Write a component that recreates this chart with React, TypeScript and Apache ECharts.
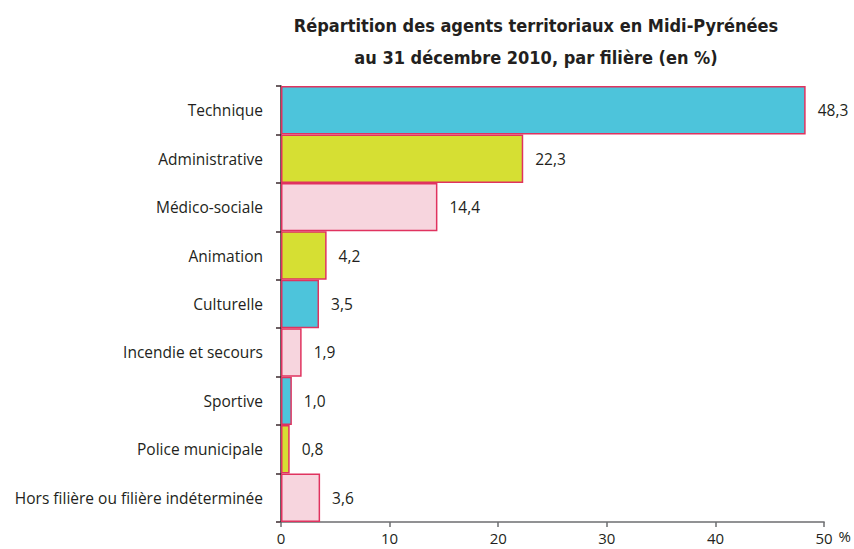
import React, { useEffect, useRef } from "react";
import * as echarts from "echarts";

const categories = [
  "Technique",
  "Administrative",
  "Médico-sociale",
  "Animation",
  "Culturelle",
  "Incendie et secours",
  "Sportive",
  "Police municipale",
  "Hors filière ou filière indéterminée",
];
const values = [48.3, 22.3, 14.4, 4.2, 3.5, 1.9, 1.0, 0.8, 3.6];
const colorKeys = ["cyan", "yellow", "pink", "yellow", "cyan", "pink", "cyan", "yellow", "pink"];
const palette: Record<string, string> = { cyan: "#4DC4DB", yellow: "#D6DF33", pink: "#F7D5DE" };
const xTicks = [0, 10, 20, 30, 40, 50];

const FONT = "'Open Sans', 'Noto Sans', sans-serif";

export default function App() {
  const ref = useRef<HTMLDivElement>(null);
  useEffect(() => {
    if (!ref.current) return;
    const chart = echarts.init(ref.current, null, { renderer: "svg" });
    chart.setOption({
      animation: false,
      title: {
        text: "Répartition des agents territoriaux en Midi-Pyrénées\nau 31 décembre 2010, par filière (en %)",
        left: 531,
        top: 4,
        textAlign: "center",
        textStyle: {
          fontFamily: "'DejaVu Sans Condensed', 'Liberation Sans Narrow', sans-serif",
          fontWeight: "bold",
          fontSize: 18,
          lineHeight: 32,
          color: "#231F20",
        },
      },
      grid: { left: 281, right: 29, top: 86, bottom: 27, containLabel: false },
      xAxis: {
        type: "value",
        min: xTicks[0],
        max: xTicks[xTicks.length - 1],
        interval: 10,
        name: "%",
        nameLocation: "end",
        nameGap: 6,
        nameTextStyle: { fontFamily: FONT, fontSize: 15, color: "#231F20", verticalAlign: "top", padding: [6, 0, 0, 0] },
        axisLine: { show: true, lineStyle: { color: "#6D6E70", width: 1.5 } },
        axisTick: { show: true, length: 5, lineStyle: { color: "#6D6E70", width: 1.5 } },
        splitLine: { show: false },
        axisLabel: { fontFamily: FONT, fontSize: 15, color: "#231F20", margin: 8 },
      },
      yAxis: {
        type: "category",
        data: categories,
        inverse: true,
        axisLine: { show: true, lineStyle: { color: "#3A2A2E", width: 1.5 } },
        axisTick: { show: true, length: 5, lineStyle: { color: "#3A2A2E", width: 1.5 } },
        axisLabel: { fontFamily: FONT, fontSize: 15.5, color: "#231F20", margin: 18 },
      },
      series: [
        {
          type: "bar",
          barCategoryGap: "0%",
          data: values.map((v, i) => ({
            value: v,
            itemStyle: { color: palette[colorKeys[i]], borderColor: "#E0335F", borderWidth: 1.5 },
          })),
          label: {
            show: true,
            position: "right",
            distance: 12,
            fontFamily: FONT,
            fontSize: 15.5,
            color: "#231F20",
            formatter: (p: any) => p.value.toFixed(1).replace(".", ","),
          },
        },
      ],
    });
    return () => chart.dispose();
  }, []);
  return <div ref={ref} style={{ width: 854, height: 549, position: "absolute", left: 0, top: 0 }} />;
}
